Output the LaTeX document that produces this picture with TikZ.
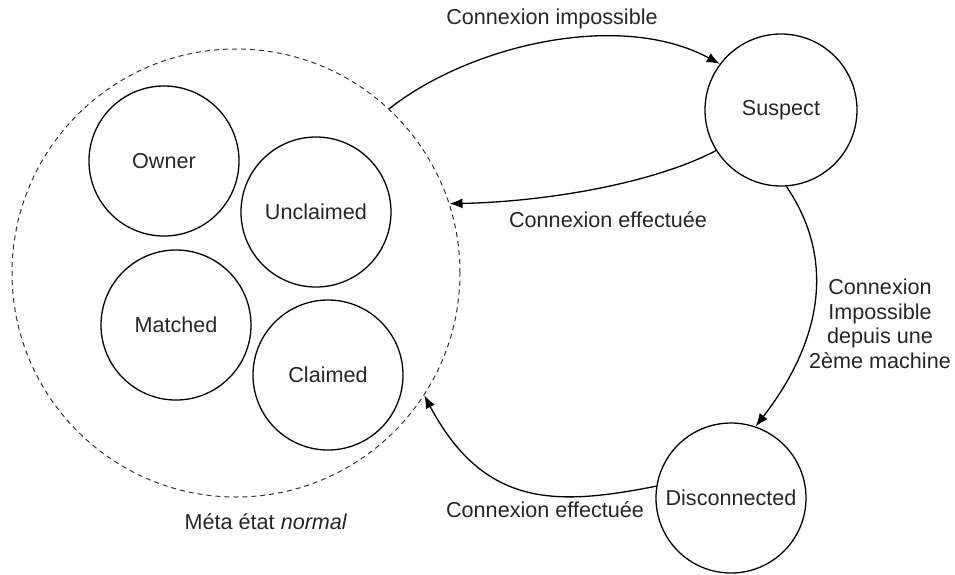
\documentclass[tikz,border=0pt]{standalone}
\usepackage{fontspec}
\setmainfont{Liberation Sans}
\usetikzlibrary{arrows.meta}

\tikzset{
  state/.style={circle, draw=black, line width=1.3pt, inner sep=0pt,
    minimum size=150pt, font=\fontsize{21.6}{24}\selectfont, text=black!85},
  meta/.style={circle, draw=black!80, line width=1pt, dash pattern=on 5pt off 4pt,
    inner sep=0pt, minimum size=448pt},
  lbl/.style={font=\fontsize{21.6}{24.5}\selectfont, text=black!85, inner sep=0pt, align=center},
  trans/.style={line width=1.3pt, -{Latex[length=13pt,width=10pt]}}
}

\begin{document}
\begin{tikzpicture}[x=1pt, y=-1pt]
  \useasboundingbox (0,0) rectangle (955,574);

  % meta state and its sub-states
  \node[meta] (normal) at (236,273) {};
  \node[state] (owner) at (164,161) {Owner};
  \node[state] (unclaimed) at (316,212) {Unclaimed};
  \node[state] (matched) at (176,325) {Matched};
  \node[state] (claimed) at (328,375) {Claimed};
  \node[lbl] (metalbl) at (266,522) {Méta état \textit{normal}};

  % outer states
  \node[state, minimum size=152pt] (suspect) at (781,110) {Suspect};
  \node[state, minimum size=150pt] (disc) at (731,498) {Disconnected};

  % transitions
  \draw[trans] (normal.47) .. controls (470,45) and (620,10) .. (suspect.143);
  \node[lbl] (l1) at (552,19) {Connexion impossible};

  \draw[trans] (suspect.212) .. controls (650,185) and (540,202) .. (normal.18);
  \node[lbl] (l2) at (608,220) {Connexion effectuée};

  \draw[trans] (suspect.274) .. controls (830,250) and (830,330) .. (disc.71);
  \node[lbl] (l3) at (880,324) {Connexion\\Impossible\\depuis une\\2ème machine};

  \draw[trans] (disc.171) .. controls (560,505) and (485,510) .. (normal.-33);
  \node[lbl] (l4) at (545,510) {Connexion effectuée};
\end{tikzpicture}
\end{document}
